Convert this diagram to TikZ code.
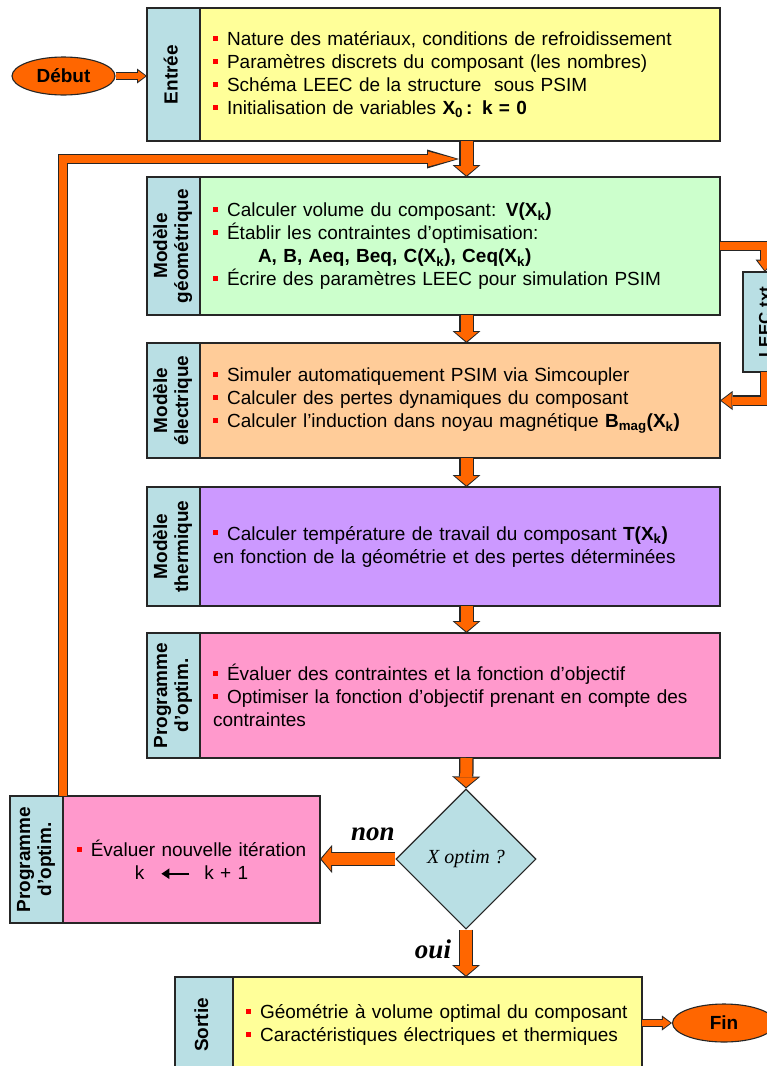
\documentclass[tikz,border=0pt]{standalone}
\usepackage{fontspec}
\setmainfont{Liberation Sans}
\newfontfamily\romain{Liberation Serif}
\usepackage{graphicx}
\usetikzlibrary{arrows.meta,positioning,shapes.geometric,calc}
\definecolor{bleuL}{RGB}{185,223,228}
\definecolor{jaune}{RGB}{255,255,153}
\definecolor{vert}{RGB}{204,255,204}
\definecolor{peche}{RGB}{255,204,153}
\definecolor{lavande}{RGB}{204,153,255}
\definecolor{rose}{RGB}{255,153,204}
\definecolor{orangeF}{RGB}{255,102,0}
\newcommand{\texte}{\fontsize{19}{23}\selectfont}
\newcommand{\puce}{{\color{red}\rule[0.24em]{0.27em}{0.27em}}\hspace{0.47em}}
\newcommand{\etiquette}[1]{\rotatebox{90}{\begin{tabular}{@{}c@{}}#1\end{tabular}}}

\begin{document}
\begin{tikzpicture}[x=1pt,y=-1pt,
  etiq/.style={draw=black!85,line width=1.1pt,fill=bleuL,inner sep=0pt,outer sep=0pt,
    minimum width=53pt,font=\bfseries\fontsize{19}{21}\selectfont},
  contenu/.style={draw=black!85,line width=1.1pt,inner xsep=13pt,inner ysep=0pt,outer sep=0pt,
    align=left,text width=494pt,font=\texte},
  terminal/.style={ellipse,draw=black!85,line width=1.1pt,fill=orangeF,minimum width=103pt,
    minimum height=38pt,inner sep=0pt,font=\bfseries\fontsize{19}{19}\selectfont},
  losange/.style={diamond,aspect=1,draw=black!85,line width=1.1pt,fill=bleuL,minimum width=140pt,
    minimum height=140pt,inner sep=0pt,font=\romain\itshape\fontsize{20}{20}\selectfont},
  reponse/.style={font=\romain\bfseries\itshape\fontsize{27}{27}\selectfont,inner sep=0pt},
  fleche/.style={draw=orangeF,line width=12pt,shorten >=1.5pt,
    -{Triangle[length=9.5pt,width=23pt,line width=0pt]},
    preaction={draw=black!85,line width=14.5pt,shorten >=0pt,
      -{Triangle[length=12pt,width=28pt,line width=0pt]}}},
  flechefine/.style={draw=orangeF,line width=8pt,shorten >=1.5pt,
    -{Triangle[length=10pt,width=15pt,line width=0pt]},
    preaction={draw=black!85,line width=10.5pt,shorten >=0pt,
      -{Triangle[length=12.5pt,width=19pt,line width=0pt]}}},
  flecheretour/.style={draw=orangeF,line width=8pt,shorten >=2.5pt,
    -{Triangle[length=28.5pt,width=15pt,line width=0pt]},
    preaction={draw=black!85,line width=10.5pt,shorten >=0pt,
      -{Triangle[length=32pt,width=19pt,line width=0pt]}}},
  flechepetite/.style={draw=orangeF,line width=6pt,shorten >=1.5pt,
    -{Triangle[length=7.5pt,width=11pt,line width=0pt]},
    preaction={draw=black!85,line width=8pt,shorten >=0pt,
      -{Triangle[length=10pt,width=15pt,line width=0pt]}}}
]
  \useasboundingbox (0,0) rectangle (767,1066);
  \coordinate (ax) at (466.5,0);

  % entree
  \node[etiq,minimum height=133pt] (entreeLab) at (173.5,74.5) {\etiquette{Entrée}};
  \node[contenu,fill=jaune,minimum height=133pt,right=0pt of entreeLab] (entree) {
    \puce Nature des matériaux, conditions de refroidissement\\
    \puce Paramètres discrets du composant (les nombres)\\
    \puce Schéma LEEC de la structure\ \ sous PSIM\\
    \puce Initialisation de variables \textbf{X\textsubscript{0}\,: k = 0}};
  \node[terminal] (debut) at (63.5,76) {Début};

  % modeles
  \node[etiq,minimum height=138pt] (geomLab) at (173.5,246) {\etiquette{Modèle\\géométrique}};
  \node[contenu,fill=vert,minimum height=138pt,right=0pt of geomLab] (geom) {
    \puce Calculer volume du composant: \textbf{V(X\textsubscript{k})}\\
    \puce Établir les contraintes d’optimisation:\\
    \hspace*{45pt}\textbf{A, B, Aeq, Beq, C(X\textsubscript{k}), Ceq(X\textsubscript{k})}\\
    \puce Écrire des paramètres LEEC pour simulation PSIM};
  \node[etiq,minimum width=44pt,minimum height=100pt,font=\bfseries\fontsize{17}{17}\selectfont]
    (leec) at (765,322) {\rotatebox{90}{LEEC.txt}};

  \node[etiq,minimum height=115pt] (elecLab) at (173.5,400.5) {\etiquette{Modèle\\électrique}};
  \node[contenu,fill=peche,minimum height=115pt,right=0pt of elecLab] (elec) {
    \puce Simuler automatiquement PSIM via Simcoupler\\
    \puce Calculer des pertes dynamiques du composant\\
    \puce Calculer l’induction dans noyau magnétique \textbf{B\textsubscript{mag}(X\textsubscript{k})}};

  \node[etiq,minimum height=119pt] (thermLab) at (173.5,546.5) {\etiquette{Modèle\\thermique}};
  \node[contenu,fill=lavande,minimum height=119pt,right=0pt of thermLab] (therm) {
    \puce Calculer température de travail du composant \textbf{T(X\textsubscript{k})}\\
    en fonction de la géométrie et des pertes déterminées};

  \node[etiq,minimum height=125pt] (progLab) at (173.5,695.5) {\etiquette{Programme\\d'optim.}};
  \node[contenu,fill=rose,minimum height=125pt,right=0pt of progLab] (prog) {
    \puce Évaluer des contraintes et la fonction d’objectif\\
    \puce Optimiser la fonction d’objectif prenant en compte des\\
    contraintes};

  % test et iteration
  \node[losange] (test) at (466,859) {X optim ?};
  \node[etiq,minimum height=127pt] (progGLab) at (36.5,859.5) {\etiquette{Programme\\d'optim.}};
  \node[contenu,fill=rose,minimum height=127pt,text width=231pt,align=center,
    right=0pt of progGLab] (progG) {
    \puce Évaluer nouvelle itération\\
    k\hspace{16pt}\tikz[baseline=-0.55ex]\draw[line width=2pt,-{Triangle[length=8pt,width=10pt]}]
      (28pt,0) -- (0pt,0);\hspace{14pt}k + 1};
  \node[reponse] (non) at (373,834) {non};
  \node[reponse] (oui) at (433,949) {oui};

  % sortie
  \node[etiq,minimum width=58pt,minimum height=96pt] (sortieLab) at (204,1025) {\etiquette{Sortie}};
  \node[contenu,fill=jaune,minimum height=96pt,text width=383pt,right=0pt of sortieLab] (sortie) {
    \puce Géométrie à volume optimal du composant\\
    \puce Caractéristiques électriques et thermiques};
  \node[terminal] (fin) at (724,1023) {Fin};

  % fleches
  \coordinate (retour) at ($(entree.south -| ax)!0.5!(geom.north -| ax)+(-7.5,0)$);
  \draw[flecheretour] (progGLab.north east) |- (retour);
  \draw[flechepetite] (debut.east) -- (debut.east -| entreeLab.west);
  \draw[fleche] (entree.south -| ax) -- (geom.north -| ax);
  \draw[fleche] (geom.south -| ax) -- (elec.north -| ax);
  \draw[fleche] (elec.south -| ax) -- (therm.north -| ax);
  \draw[fleche] (therm.south -| ax) -- (prog.north -| ax);
  \draw[fleche] (prog.south -| ax) -- (test.north);
  \draw[fleche] (test.west) -- (progG.east |- test.west);
  \draw[fleche] (test.south) -- (sortie.north -| test.south);
  \draw[flechefine] (geom.east) -| (leec.north);
  \draw[flechefine] (leec.south) |- (elec.east);
  \draw[flechepetite] (fin.west -| sortie.east) -- (fin.west);
\end{tikzpicture}
\end{document}
